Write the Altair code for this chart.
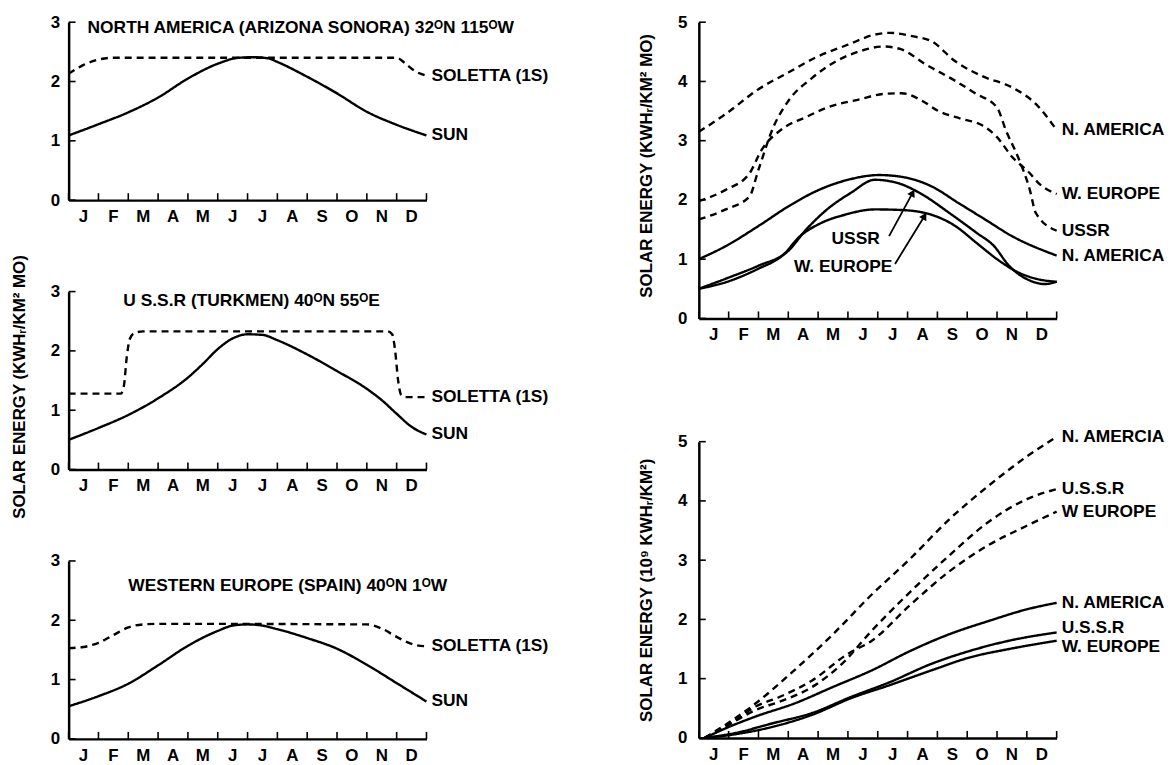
import altair as alt
import pandas as pd

FONT = "Liberation Sans"
FS = 17
TFS = 17.5
MONTHS = ["J", "F", "M", "A", "M", "J", "J", "A", "S", "O", "N", "D"]

# ---- Panel 1: North America (Arizona - Sonora), monthly ----
NA_SUN_M = [0, 1, 2, 3, 4, 5, 5.7, 6.2, 6.7, 7, 8, 9, 10, 11, 12]
NA_SUN_V = [1.09, 1.28, 1.48, 1.73, 2.05, 2.30, 2.40, 2.41, 2.39, 2.33, 2.08, 1.80, 1.49, 1.27, 1.09]
NA_SOL_M = [0, 0.5, 1.0, 1.5, 2.0, 11.0, 11.3, 11.6, 12]
NA_SOL_V = [2.13, 2.28, 2.37, 2.40, 2.40, 2.40, 2.30, 2.18, 2.10]

# ---- Panel 2: U.S.S.R (Turkmen), monthly ----
US_SUN_M = [0, 1, 2, 3, 4, 4.5, 5, 5.5, 6, 6.5, 7, 8, 9, 10, 10.5, 11, 11.5, 12]
US_SUN_V = [0.50, 0.70, 0.92, 1.20, 1.55, 1.78, 2.03, 2.21, 2.28, 2.27, 2.18, 1.94, 1.66, 1.36, 1.17, 0.94, 0.72, 0.59]
US_SOL_M = [0, 1.75, 1.85, 1.95, 2.05, 2.2, 2.5, 10.7, 10.85, 10.95, 11.05, 11.15, 11.3, 12]
US_SOL_V = [1.28, 1.28, 1.40, 1.90, 2.20, 2.30, 2.33, 2.33, 2.28, 2.00, 1.50, 1.26, 1.22, 1.22]

# ---- Panel 3: Western Europe (Spain), monthly ----
WE_SUN_M = [0, 1, 2, 3, 4, 5, 5.5, 6, 6.5, 7, 8, 9, 10, 11, 12]
WE_SUN_V = [0.55, 0.72, 0.93, 1.24, 1.57, 1.82, 1.91, 1.93, 1.91, 1.85, 1.70, 1.52, 1.25, 0.94, 0.63]
WE_SOL_M = [0, 0.5, 1, 1.5, 2, 2.5, 3, 10, 10.5, 11, 11.5, 12]
WE_SOL_V = [1.53, 1.55, 1.62, 1.75, 1.88, 1.93, 1.94, 1.93, 1.86, 1.72, 1.60, 1.56]

# ---- Panel 4: monthly totals, three regions ----
T_NA_D_M = [0, 0.9, 2, 3, 3.9, 5, 5.9, 6.4, 7.2, 7.8, 8.6, 9.5, 10.5, 11.3, 12]
T_NA_D_V = [3.15, 3.45, 3.87, 4.15, 4.40, 4.62, 4.79, 4.82, 4.76, 4.68, 4.34, 4.09, 3.90, 3.62, 3.18]
T_US_D_M = [0, 0.9, 1.7, 2.0, 2.5, 3.0, 3.8, 4.6, 5.4, 6.2, 6.8, 7.6, 8.6, 9.3, 10.0, 10.3, 10.7, 11.1, 11.3, 12]
T_US_D_V = [1.67, 1.84, 2.06, 2.51, 3.23, 3.67, 4.06, 4.34, 4.51, 4.59, 4.54, 4.29, 4.01, 3.79, 3.56, 3.17, 2.73, 2.17, 1.78, 1.48]
T_WE_D_M = [0, 0.9, 1.7, 2.1, 2.8, 3.6, 4.3, 5.4, 6.2, 6.8, 7.5, 8.0, 8.8, 9.5, 10.0, 10.5, 11.1, 11.4, 12]
T_WE_D_V = [1.98, 2.17, 2.45, 2.84, 3.20, 3.40, 3.56, 3.70, 3.79, 3.80, 3.67, 3.51, 3.37, 3.26, 3.06, 2.73, 2.45, 2.28, 2.10]
T_NA_S_M = [0, 0.9, 2, 3, 3.9, 5, 6.05, 6.8, 7.8, 8.7, 9.6, 10.5, 12]
T_NA_S_V = [1.00, 1.22, 1.56, 1.89, 2.14, 2.34, 2.42, 2.39, 2.23, 1.95, 1.67, 1.39, 1.06]
T_US_S_M = [0, 0.9, 2, 3, 3.6, 4.3, 5.1, 5.9, 6.7, 7.5, 8.4, 9.3, 9.9, 10.4, 11.1, 11.6, 12]
T_US_S_V = [0.50, 0.67, 0.89, 1.14, 1.50, 1.84, 2.12, 2.34, 2.28, 2.09, 1.78, 1.45, 1.22, 0.89, 0.64, 0.58, 0.62]
T_WE_S_M = [0, 0.9, 2, 2.8, 3.4, 4.1, 4.9, 5.9, 6.8, 7.8, 8.6, 9.3, 10, 10.7, 11.3, 12]
T_WE_S_V = [0.50, 0.61, 0.84, 1.06, 1.39, 1.61, 1.75, 1.84, 1.83, 1.75, 1.56, 1.28, 1.00, 0.78, 0.67, 0.62]

# ---- Panel 5: cumulative energy ----
C_NA_D_M = [0.2, 0.55, 1.9, 3.2, 4.5, 5.8, 7.1, 8.4, 9.7, 11.0, 12]
C_NA_D_V = [0, 0.11, 0.58, 1.14, 1.75, 2.42, 3.03, 3.69, 4.25, 4.75, 5.08]
C_US_D_M = [0.2, 1.1, 1.9, 2.7, 3.8, 4.8, 5.8, 7.1, 8.4, 9.7, 11.0, 12]
C_US_D_V = [0, 0.25, 0.47, 0.61, 0.86, 1.25, 1.81, 2.47, 3.08, 3.64, 4.03, 4.20]
C_WE_D_M = [0.2, 1.1, 1.9, 2.7, 3.8, 5.0, 5.8, 7.1, 8.4, 9.7, 11.0, 12]
C_WE_D_V = [0, 0.25, 0.53, 0.69, 0.97, 1.42, 1.64, 2.25, 2.81, 3.25, 3.58, 3.82]
C_NA_S_M = [0.2, 0.8, 1.9, 3.2, 4.5, 5.8, 7.1, 8.4, 9.7, 11.0, 12]
C_NA_S_V = [0, 0.14, 0.36, 0.58, 0.86, 1.14, 1.47, 1.75, 1.97, 2.17, 2.28]
C_US_S_M = [0.2, 1.2, 2.5, 3.8, 5.1, 6.4, 7.8, 9.1, 10.4, 12]
C_US_S_V = [0, 0.08, 0.25, 0.42, 0.69, 0.94, 1.25, 1.47, 1.64, 1.78]
C_WE_S_M = [0.2, 1.2, 2.5, 3.8, 5.1, 6.4, 7.8, 9.1, 10.4, 12]
C_WE_S_V = [0, 0.06, 0.19, 0.39, 0.67, 0.89, 1.14, 1.36, 1.50, 1.64]

LEFT_YTITLE = "SOLAR ENERGY (KWHᵣ/KM² MO)"
TR_YTITLE = "SOLAR ENERGY (KWHᵣ/KM² MO)"
BR_YTITLE = "SOLAR ENERGY (10⁹ KWHᵣ/KM²)"

W = 360
H_SMALL = 179
H_BIG = 298


def text_mark(**kw):
    base = dict(font=FONT, fontSize=TFS, fontWeight="bold", color="black")
    base.update(kw)
    return base


def panel(specs, ymax, h, ytitle=None, title=None, end_labels=(), notes=(), arrows=(),
          label_pad=9, title_pad=22, title_shift=0):
    rows = []
    for name, kind, ms, vs in specs:
        for m, v in zip(ms, vs):
            rows.append({"series": name, "kind": kind, "m": m, "v": v})
    df = pd.DataFrame(rows)

    xaxis = alt.Axis(values=list(range(13)), labels=False, title=None, ticks=False, grid=False)
    yargs = dict(values=list(range(ymax + 1)), ticks=False, grid=False, labelPadding=label_pad,
                 labelFlush=False, labelOverlap=False, format="d")
    if ytitle:
        yaxis = alt.Axis(title=ytitle, titlePadding=title_pad, titleY=h / 2 + title_shift, **yargs)
    else:
        yaxis = alt.Axis(title=None, **yargs)

    xs = alt.Scale(domain=[0, 12], nice=False)
    ys = alt.Scale(domain=[0, ymax], nice=False)
    x = alt.X("m:Q", scale=xs, axis=xaxis)
    y = alt.Y("v:Q", scale=ys, axis=yaxis)

    layers = [
        alt.Chart(df).mark_line(color="black", strokeWidth=2.4, interpolate="monotone").encode(
            x=x, y=y, detail="series:N",
            strokeDash=alt.StrokeDash("kind:N", scale=alt.Scale(domain=["sun", "soletta"],
                                                                range=[[1, 0], [7, 5]]), legend=None),
        )
    ]
    # inward tick marks
    layers.append(
        alt.Chart(pd.DataFrame({"m": list(range(13))})).mark_rule(color="black", strokeWidth=1.6).encode(
            x=x, y=alt.value(h), y2=alt.value(h - 7))
    )
    layers.append(
        alt.Chart(pd.DataFrame({"v": list(range(ymax + 1))})).mark_rule(color="black", strokeWidth=1.6).encode(
            y=y, x=alt.value(0), x2=alt.value(7))
    )
    # month labels centred in each month
    layers.append(
        alt.Chart(pd.DataFrame({"m": [i + 0.5 for i in range(12)], "lab": MONTHS})).mark_text(
            **text_mark(fontSize=FS, align="center", baseline="top")).encode(
            x=x, y=alt.value(h + 9), text="lab:N")
    )
    if title:
        txt, px, py = title
        layers.append(
            alt.Chart(pd.DataFrame({"t": [txt]})).mark_text(**text_mark(align="left", baseline="middle")).encode(
                x=alt.value(px), y=alt.value(py), text="t:N")
        )
    for txt, m, v, dy in end_labels:
        layers.append(
            alt.Chart(pd.DataFrame({"t": [txt]})).mark_text(
                **text_mark(align="left", baseline="middle", dx=5, dy=dy)).encode(
                x=alt.datum(m), y=alt.datum(v), text="t:N")
        )
    for txt, m, v in notes:
        layers.append(
            alt.Chart(pd.DataFrame({"t": [txt]})).mark_text(
                **text_mark(align="center", baseline="middle")).encode(
                x=alt.datum(m), y=alt.datum(v), text="t:N")
        )
    for (m1, v1, m2, v2, ang) in arrows:
        layers.append(
            alt.Chart(pd.DataFrame({"t": [0]})).mark_rule(color="black", strokeWidth=1.8).encode(
                x=alt.datum(m1), y=alt.datum(v1), x2=alt.datum(m2), y2=alt.datum(v2))
        )
        layers.append(
            alt.Chart(pd.DataFrame({"t": [0]})).mark_point(shape="triangle-up", filled=True, size=70,
                                                          angle=ang, color="black", opacity=1).encode(
                x=alt.datum(m2), y=alt.datum(v2))
        )
    return alt.layer(*layers).properties(width=W, height=h)


p1 = panel(
    [("sun", "sun", NA_SUN_M, NA_SUN_V), ("sol", "soletta", NA_SOL_M, NA_SOL_V)],
    3, H_SMALL,
    title=("NORTH AMERICA (ARIZONA  SONORA) 32ᴼN 115ᴼW", 19, 6),
    end_labels=[("SOLETTA (1S)", 12, NA_SOL_V[-1], 0), ("SUN", 12, NA_SUN_V[-1], 0)],
)
p2 = panel(
    [("sun", "sun", US_SUN_M, US_SUN_V), ("sol", "soletta", US_SOL_M, US_SOL_V)],
    3, H_SMALL, ytitle=LEFT_YTITLE, title_shift=6,
    title=("U S.S.R (TURKMEN) 40ᴼN 55ᴼE", 55, 10),
    end_labels=[("SOLETTA (1S)", 12, US_SOL_V[-1], 0), ("SUN", 12, US_SUN_V[-1], 0)],
)
p3 = panel(
    [("sun", "sun", WE_SUN_M, WE_SUN_V), ("sol", "soletta", WE_SOL_M, WE_SOL_V)],
    3, H_SMALL,
    title=("WESTERN EUROPE (SPAIN) 40ᴼN 1ᴼW", 60, 25),
    end_labels=[("SOLETTA (1S)", 12, WE_SOL_V[-1], 0), ("SUN", 12, WE_SUN_V[-1], 0)],
)
p4 = panel(
    [("nad", "soletta", T_NA_D_M, T_NA_D_V), ("usd", "soletta", T_US_D_M, T_US_D_V),
     ("wed", "soletta", T_WE_D_M, T_WE_D_V), ("nas", "sun", T_NA_S_M, T_NA_S_V),
     ("uss", "sun", T_US_S_M, T_US_S_V), ("wes", "sun", T_WE_S_M, T_WE_S_V)],
    5, H_BIG, ytitle=TR_YTITLE, label_pad=12, title_shift=-5,
    end_labels=[("N. AMERICA", 12, T_NA_D_V[-1], 0), ("W. EUROPE", 12, T_WE_D_V[-1], 0),
                ("USSR", 12, T_US_D_V[-1], 0), ("N. AMERICA", 12, T_NA_S_V[-1], 0)],
    notes=[("USSR", 5.26, 1.34), ("W. EUROPE", 4.84, 0.86)],
    arrows=[(6.38, 1.39, 7.17, 2.12, 28), (6.58, 0.92, 7.57, 1.73, 31)],
)
p5 = panel(
    [("nad", "soletta", C_NA_D_M, C_NA_D_V), ("usd", "soletta", C_US_D_M, C_US_D_V),
     ("wed", "soletta", C_WE_D_M, C_WE_D_V), ("nas", "sun", C_NA_S_M, C_NA_S_V),
     ("uss", "sun", C_US_S_M, C_US_S_V), ("wes", "sun", C_WE_S_M, C_WE_S_V)],
    5, H_BIG, ytitle=BR_YTITLE, label_pad=12,
    end_labels=[("N. AMERCIA", 12, C_NA_D_V[-1], 0), ("U.S.S.R", 12, C_US_D_V[-1], 0),
                ("W  EUROPE", 12, C_WE_D_V[-1], 0), ("N. AMERICA", 12, C_NA_S_V[-1], 0),
                ("U.S.S.R", 12, C_US_S_V[-1], -4), ("W. EUROPE", 12, C_WE_S_V[-1], 6)],
)

left = alt.vconcat(p1, p2, p3, spacing=92, bounds="flush")
right = alt.vconcat(p4, p5, spacing=124, bounds="flush")

chart = alt.hconcat(left, right, spacing=88).properties(
    padding={"left": 2, "top": 3, "right": 2, "bottom": 2},
    background="white",
).configure_axis(
    labelFont=FONT, labelFontSize=FS, labelFontWeight="bold", labelColor="black",
    titleFont=FONT, titleFontSize=FS, titleFontWeight="bold", titleColor="black",
    domainColor="black", domainWidth=2.5,
).configure_view(strokeWidth=0, stroke="transparent")

chart.save("out.html", embed_options={"renderer": "svg", "actions": False})
